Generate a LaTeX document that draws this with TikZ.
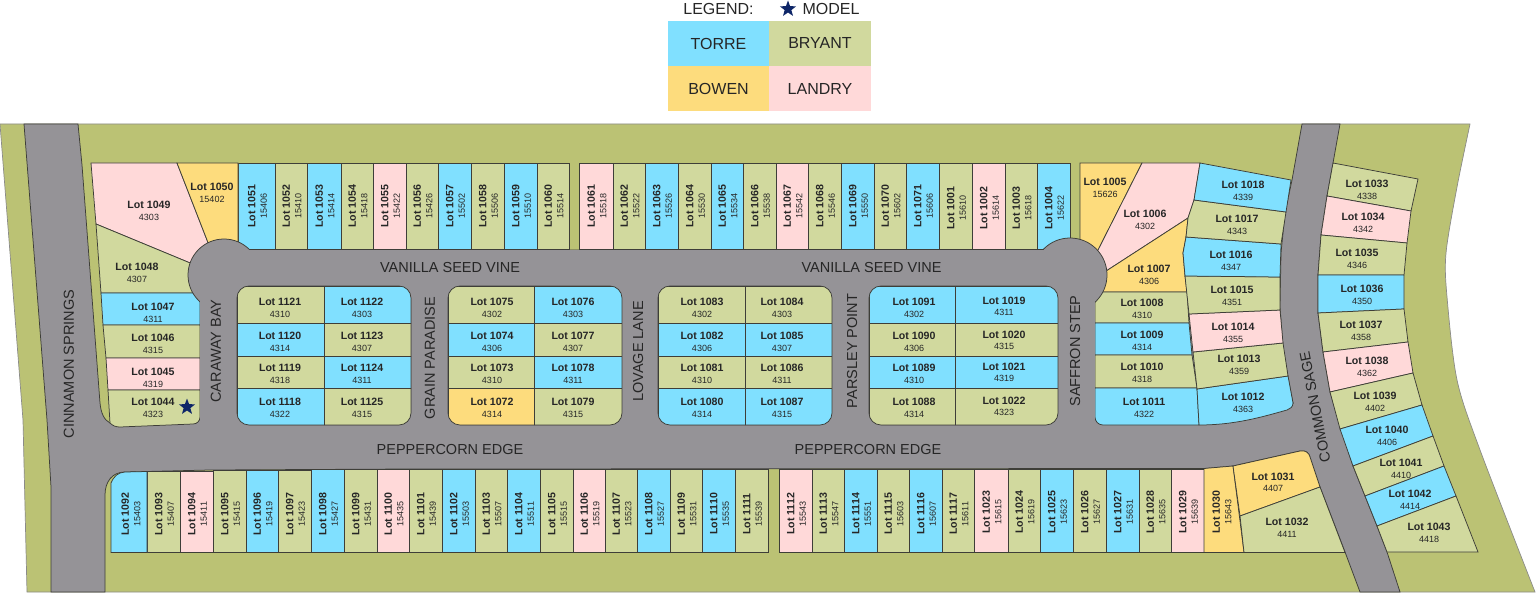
\documentclass[tikz,border=0pt]{standalone}
\usepackage{fontspec}
\setmainfont{Liberation Sans}
\usetikzlibrary{shapes.geometric}
\definecolor{torre}{RGB}{128,224,255}
\definecolor{bryant}{RGB}{209,217,158}
\definecolor{bowen}{RGB}{253,220,125}
\definecolor{landry}{RGB}{255,217,217}
\definecolor{site}{RGB}{187,194,116}
\definecolor{road}{RGB}{149,147,151}
\definecolor{edgeline}{RGB}{62,62,56}
\definecolor{navy}{RGB}{14,38,104}
\tikzset{
  lot/.style={draw=edgeline, line width=0.75pt},
  lottext/.style={align=center, inner sep=0pt, text=black!85, font=\fontsize{10}{11.5}\selectfont},
  street/.style={inner sep=0pt, text=black!85, font=\fontsize{14.5}{16}\selectfont},
  legendcell/.style={inner sep=0pt, minimum height=45pt, text=black!85, font=\fontsize{16}{18}\selectfont},
  legendtext/.style={inner sep=0pt, text=black!85, font=\fontsize{16}{18}\selectfont},
  modelstar/.style={star, star points=5, star point ratio=2.4, fill=navy, inner sep=0pt, minimum size=#1}
}
\newcommand{\lotlabel}[2]{{\fontsize{10.6}{11.5}\selectfont\bfseries #1}\\{\fontsize{9}{11.5}\selectfont #2}}
\newcommand{\vlots}[4]{\foreach \xl/\xr/\lotn/\addr/\col in {#4}{
  \draw[lot, fill=\col] (\xl,#1) rectangle (\xr,#2);
  \node[lottext, rotate=90] (l\lotn) at ({(\xl+\xr)/2+1},#3) {\lotlabel{Lot \lotn}{\addr}};
}}
\newcommand{\polylot}[6]{
  \draw[lot, fill=#6] #1 -- cycle;
  \node[lottext, yshift=-1pt] (l#4) at (#2,#3) {\lotlabel{Lot #4}{#5}};
}
\newcommand{\lotcol}[5]{\foreach \row/\lotn/\addr/\col in {#5}{
  \pgfmathsetmacro{\yt}{{286,323,356,388}[\row]}
  \pgfmathsetmacro{\yb}{{323,356,388,425}[\row]}
  \pgfmathsetmacro{\yc}{{307,341,373,407}[\row]+#4}
  \draw[lot, fill=\col] (#1,\yt) rectangle (#2,\yb);
  \node[lottext, yshift=-1pt] (l\lotn) at (#3,\yc) {\lotlabel{Lot \lotn}{\addr}};
}}
\newcommand{\lotblock}[3]{
  \begin{scope}
    \clip[rounded corners=12pt] (#1,286) rectangle (#2,425);
    #3
  \end{scope}
  \draw[lot, rounded corners=12pt] (#1,286) rectangle (#2,425);
}
\begin{document}
\begin{tikzpicture}[x=1pt, y=-1pt]
  \useasboundingbox (0,0) rectangle (1536,593);

  \draw[draw=edgeline!60, fill=site, line width=0.7pt] (0,124) -- (1470,124)
    -- plot[smooth] coordinates {(1470,124) (1457,187) (1446,253) (1447,297) (1457,380) (1480,450) (1535,592)}
    -- (27,592) -- (23,420) -- cycle;

  \draw[lot, fill=road] (24,124) -- (47,420) -- (51,487) -- (51,592) -- (105,592) -- (105,495)
    .. controls (105,482) and (112,472) .. (125,472) -- (210,470) -- (410,469) -- (1205,468.5)
    -- (1233,466) -- (1300,451) .. controls (1306,450) and (1309,453) .. (1310,457)
    -- (1320,487) -- (1345,552) -- (1360,592) -- (1400,592) -- (1387,552) -- (1377,526) -- (1365,496)
    -- (1353,466) -- (1341,429) -- (1330,392) -- (1323,352) -- (1318,313) -- (1318,275) -- (1321,235)
    -- (1327,196) -- (1333,163) -- (1340,124) -- (1302,124) -- (1292,180) -- (1285,213) -- (1281,253)
    -- (1280,307) -- (1283,347) -- (1288,377) -- (1293,403) -- (1200,330) -- (1095,250) -- (240,250)
    -- (180,300) -- (110,423) .. controls (104,420) and (101,413) .. (100,403) -- (82,165) -- (78,124) -- cycle;

  \vlots{163}{249.5}{206}{238/275/1051/15406/torre, 275/307/1052/15410/bryant, 307/341/1053/15414/torre,
    341/373/1054/15418/bryant, 373/406/1055/15422/landry, 406/438/1056/15426/bryant, 438/471/1057/15502/torre,
    471/504/1058/15506/bryant, 504/537/1059/15510/torre, 537/569/1060/15514/bryant, 579/613/1061/15518/landry,
    613/645/1062/15522/bryant, 645/678/1063/15526/torre, 678/711/1064/15530/bryant, 711/743/1065/15534/torre,
    743/776/1066/15538/bryant, 776/808/1067/15542/landry, 808/841/1068/15546/bryant, 841/874/1069/15550/torre,
    874/906/1070/15602/bryant, 906/939/1071/15606/torre}
  \vlots{163}{249.5}{208}{939/972/1001/15610/bryant, 972/1005/1002/15614/landry, 1005/1037/1003/15618/bryant,
    1037/1070/1004/15622/torre}

  \polylot{(91,163) -- (177,163) -- (214,258) -- (195,265) -- (96,224)}{149}{210}{1049}{4303}{landry}
  \polylot{(177,163) -- (238,163) -- (238,250) -- (214,258)}{212}{192}{1050}{15402}{bowen}
  \polylot{(96,224) -- (195,265) -- (200,293) -- (101,293)}{137}{272}{1048}{4307}{bryant}
  \polylot{(101,293) -- (200,293) -- (200,325) -- (103,325)}{153}{312}{1047}{4311}{torre}
  \polylot{(103,325) -- (200,325) -- (200,358) -- (106,358)}{153}{343}{1046}{4315}{bryant}
  \polylot{(106,358) -- (200,358) -- (200,390) -- (108,390)}{153}{377}{1045}{4319}{landry}
  \polylot{(108,390) -- (200,390) -- (200,417) .. controls (200,421) and (197,424) .. (193,424) -- (120,427) .. controls (116,427) and (113,426) .. (110,423)}{153}{407}{1044}{4323}{bryant}

  \polylot{(1080,163) -- (1142,163) -- (1093,260) -- (1080,260)}{1105}{187}{1005}{15626}{bowen}
  \polylot{(1142,163) -- (1200,163) -- (1194,200) -- (1188,218) -- (1100,275) -- (1093,260)}{1145}{219}{1006}{4302}{landry}
  \polylot{(1188,218) -- (1186,237) -- (1183,253) -- (1185,276) -- (1187,292) -- (1095,292) -- (1100,275)}{1149}{274}{1007}{4306}{bowen}
  \polylot{(1095,292) -- (1187,292) -- (1189,323) -- (1095,323)}{1142}{308}{1008}{4310}{bryant}
  \polylot{(1095,323) -- (1189,323) -- (1192,355) -- (1095,355)}{1142}{340}{1009}{4314}{torre}
  \polylot{(1095,355) -- (1192,355) -- (1197,388) -- (1095,388)}{1142}{372}{1010}{4318}{bryant}
  \polylot{(1095,388) -- (1197,388) -- (1199,425) -- (1103,425) .. controls (1098,425) and (1095,421) .. (1095,417)}{1144}{407}{1011}{4322}{torre}
  \polylot{(1197,389) -- (1288,376) -- (1293,403) .. controls (1293,407) and (1290,409) .. (1287,410) .. controls (1262,417) and (1235,425) .. (1199,425)}{1243}{402}{1012}{4363}{torre}
  \polylot{(1193,352) -- (1283,343) -- (1288,376) -- (1197,389)}{1239}{364}{1013}{4359}{bryant}
  \polylot{(1189,314) -- (1280,310) -- (1283,343) -- (1193,352)}{1233}{332}{1014}{4355}{landry}
  \polylot{(1185,276) -- (1280,277) -- (1280,310) -- (1189,314)}{1232}{295}{1015}{4351}{bryant}
  \polylot{(1186,237) -- (1281,244) -- (1280,277) -- (1185,276) -- (1183,253)}{1231}{260}{1016}{4347}{torre}
  \polylot{(1194,200) -- (1286,212) -- (1281,244) -- (1186,237) -- (1188,218)}{1237}{224}{1017}{4343}{bryant}
  \polylot{(1200,163) -- (1291,180) -- (1286,212) -- (1194,200)}{1243}{190}{1018}{4339}{torre}

  \polylot{(1333,163) -- (1418,179) -- (1411,211) -- (1327,196)}{1367}{189}{1033}{4338}{bryant}
  \polylot{(1327,196) -- (1411,211) -- (1407,243) -- (1321,235)}{1363}{222}{1034}{4342}{landry}
  \polylot{(1321,235) -- (1407,243) -- (1404,275) -- (1318,275)}{1357}{258}{1035}{4346}{bryant}
  \polylot{(1318,275) -- (1404,275) -- (1404,309) -- (1318,313)}{1362}{294}{1036}{4350}{torre}
  \polylot{(1318,313) -- (1404,309) -- (1408,342) -- (1323,352)}{1361}{330}{1037}{4358}{bryant}
  \polylot{(1323,352) -- (1408,342) -- (1413,373) -- (1330,392)}{1367}{366}{1038}{4362}{landry}
  \polylot{(1330,392) -- (1413,373) -- (1422,405) -- (1340,429)}{1375}{401}{1039}{4402}{bryant}
  \polylot{(1340,429) -- (1422,405) -- (1433,436) -- (1353,466)}{1387}{435}{1040}{4406}{torre}
  \polylot{(1353,466) -- (1433,436) -- (1444,466) -- (1365,496)}{1401}{468}{1041}{4410}{bryant}
  \polylot{(1365,496) -- (1444,466) -- (1456,496) -- (1377,526)}{1410}{499}{1042}{4414}{torre}
  \polylot{(1377,526) -- (1456,496) -- (1478,552) -- (1387,552)}{1429}{532}{1043}{4418}{bryant}

  \draw[lot, fill=road] (224,275) circle (36);
  \draw[lot, fill=road] (1070,275) circle (37);
  \fill[road] (200.4,250.2) rectangle (1094.6,430);

  \lotblock{237}{411}{
    \lotcol{237}{324}{280}{0}{0/1121/4310/bryant, 1/1120/4314/torre, 2/1119/4318/bryant, 3/1118/4322/torre}
    \lotcol{324}{411}{362}{0}{0/1122/4303/torre, 1/1123/4307/bryant, 2/1124/4311/torre, 3/1125/4315/bryant}
  }
  \lotblock{448}{622}{
    \lotcol{448}{534}{492}{0}{0/1075/4302/bryant, 1/1074/4306/torre, 2/1073/4310/bryant, 3/1072/4314/bowen}
    \lotcol{534}{622}{573}{0}{0/1076/4303/torre, 1/1077/4307/bryant, 2/1078/4311/torre, 3/1079/4315/bryant}
  }
  \lotblock{658}{832}{
    \lotcol{658}{745}{702}{0}{0/1083/4302/bryant, 1/1082/4306/torre, 2/1081/4310/bryant, 3/1080/4314/torre}
    \lotcol{745}{832}{782}{0}{0/1084/4303/bryant, 1/1085/4307/torre, 2/1086/4311/bryant, 3/1087/4315/torre}
  }
  \lotblock{869}{1058}{
    \lotcol{869}{955}{914}{0}{0/1091/4302/torre, 1/1090/4306/bryant, 2/1089/4310/torre, 3/1088/4314/bryant}
    \lotcol{955}{1058}{1004}{-1.5}{0/1019/4311/torre, 1/1020/4315/bryant, 2/1021/4319/torre, 3/1022/4323/bryant}
  }

  \vlots{471.5}{552.5}{514}{147/180/1093/15407/bryant}
  \vlots{471}{552.5}{514}{180/213/1094/15411/landry}
  \vlots{470}{552.5}{514}{213/246/1095/15415/bryant, 246/278/1096/15419/torre, 278/311/1097/15423/bryant}
  \vlots{469.5}{552.5}{514}{311/344/1098/15427/torre, 344/377/1099/15431/bryant, 377/409/1100/15435/landry,
    409/442/1101/15439/bryant, 442/475/1102/15503/torre, 475/507/1103/15507/bryant, 507/540/1104/15511/torre,
    540/573/1105/15515/bryant, 573/605/1106/15519/landry, 605/637/1107/15523/bryant, 637/670/1108/15527/torre,
    670/702/1109/15531/bryant, 702/735/1110/15535/torre, 735/768/1111/15539/bryant, 779/812/1112/15543/landry,
    812/844/1113/15547/bryant, 844/877/1114/15551/torre, 877/909/1115/15603/bryant, 909/942/1116/15607/torre,
    942/974/1117/15611/bryant}
  \vlots{469.5}{552.5}{512}{974/1008/1023/15615/landry, 1008/1040/1024/15619/bryant, 1040/1073/1025/15623/torre,
    1073/1106/1026/15627/bryant, 1106/1139/1027/15631/torre, 1139/1171/1028/15635/bryant}
  \vlots{469}{552.5}{512}{1171/1204/1029/15639/landry}

  \draw[lot, fill=torre] (111,552.5) -- (111,483) .. controls (114,476) and (118,472.5) .. (125,472) -- (147,471.5) -- (147,552.5) -- cycle;
  \node[lottext, rotate=90] (l1092) at (131,514) {\lotlabel{Lot 1092}{15403}};
  \draw[lot, fill=bowen] (1204,468.5) -- (1233,466) -- (1244,552.5) -- (1204,552.5) -- cycle;
  \node[lottext, rotate=90] (l1030) at (1222,512) {\lotlabel{Lot 1030}{15643}};
  \polylot{(1233,466) -- (1300,451) .. controls (1306,450) and (1309,453) .. (1310,457) -- (1320,487) -- (1240,516)}{1273}{481.5}{1031}{4407}{bowen}
  \polylot{(1240,516) -- (1320,487) -- (1345,552.5) -- (1244,552.5)}{1287}{527}{1032}{4411}{bryant}

  \node[modelstar=17pt] (star-lot) at (187,407) {};

  \node[street, rotate=90] (cinnamon) at (69,364) {CINNAMON SPRINGS};
  \node[street, rotate=90] (caraway) at (216,351) {CARAWAY BAY};
  \node[street, rotate=90] (grain) at (430,358) {GRAIN PARADISE};
  \node[street, rotate=90] (lovage) at (638,351.5) {LOVAGE LANE};
  \node[street, rotate=90] (parsley) at (852,351) {PARSLEY POINT};
  \node[street, rotate=90] (saffron) at (1075,351) {SAFFRON STEP};
  \node[street, rotate=101] (common) at (1315,407) {COMMON SAGE};
  \node[street] (vanilla-a) at (450,267.5) {VANILLA SEED VINE};
  \node[street] (vanilla-b) at (871.5,267.5) {VANILLA SEED VINE};
  \node[street] (pepper-a) at (450,449.5) {PEPPERCORN EDGE};
  \node[street] (pepper-b) at (868,449.5) {PEPPERCORN EDGE};

  \node[legendtext] (legend) at (718.5,9) {LEGEND:};
  \node[modelstar=17pt] (star-legend) at (788,9) {};
  \node[legendtext] (model) at (831,9) {MODEL};
  \node[legendcell, fill=torre, minimum width=101pt] (leg-torre) at (718.5,43.5) {TORRE};
  \node[legendcell, fill=bryant, minimum width=102pt] (leg-bryant) at (820,43.5) {BRYANT};
  \node[legendcell, fill=bowen, minimum width=101pt] (leg-bowen) at (718.5,88.5) {BOWEN};
  \node[legendcell, fill=landry, minimum width=102pt] (leg-landry) at (820,88.5) {LANDRY};
\end{tikzpicture}
\end{document}
